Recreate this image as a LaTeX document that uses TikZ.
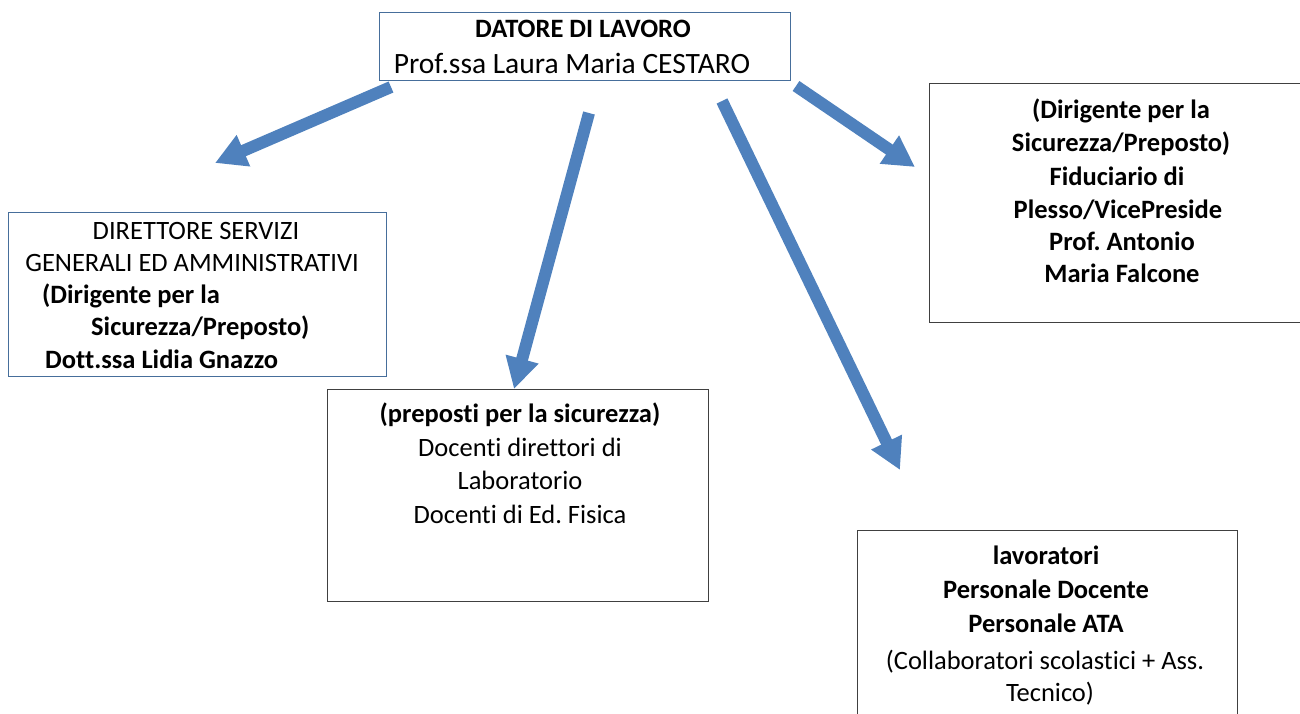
\documentclass[tikz,border=0pt]{standalone}
\usepackage{fontspec}
\setmainfont{Carlito}[Ligatures=NoCommon]
\usetikzlibrary{arrows.meta}
\frenchspacing

\definecolor{arrowblue}{RGB}{79,129,189}
\definecolor{frameblue}{RGB}{70,110,155}
\definecolor{framegray}{RGB}{64,64,64}

\tikzset{
  box/.style={draw=framegray, line width=1pt},
  bluebox/.style={draw=frameblue, line width=1pt},
  txt/.style={anchor=base, inner sep=0pt, font=\fontsize{26.5pt}{33pt}\selectfont},
  txtw/.style={txt, anchor=base west},
  bigarrow/.style={draw=arrowblue, line width=12pt,
    -{Triangle[length=31pt,width=32pt]}, fill=arrowblue},
}

\begin{document}
\begin{tikzpicture}[x=1pt, y=-1pt]
  \useasboundingbox (0,0) rectangle (1300,713);
  \clip (0,0) rectangle (1300,713);

  % frames
  \draw[bluebox] (379,12) rectangle (790,80);
  \draw[bluebox] (8,212) rectangle (386,376);
  \draw[box] (327,389) rectangle (708,601);
  \draw[box] (929,83) rectangle (1310,322);
  \draw[box] (857,530) rectangle (1237,730);

  % employer
  \node[txt] (dl1) at (583,37) {\bfseries DATORE DI LAVORO};
  \node[txt, font=\fontsize{29.5pt}{34pt}\selectfont] (dl2) at (572,73) {Prof.ssa Laura Maria CESTARO};

  % DSGA
  \node[txt] (ds1) at (196,239) {DIRETTORE SERVIZI};
  \node[txt] (ds2) at (192,271) {GENERALI ED AMMINISTRATIVI};
  \node[txtw] (ds3) at (42,303) {\bfseries (Dirigente per la};
  \node[txtw] (ds4) at (91,335) {\bfseries Sicurezza/Preposto)};
  \node[txtw] (ds5) at (45,368) {\bfseries Dott.ssa Lidia Gnazzo};

  % lab supervisors
  \node[txt] (pr1) at (520,422) {\bfseries (preposti per la sicurezza)};
  \node[txt] (pr2) at (520,456) {Docenti direttori di};
  \node[txt] (pr3) at (520,489) {Laboratorio};
  \node[txt] (pr4) at (520,523) {Docenti di Ed. Fisica};

  % site trustee
  \node[txt] (fd1) at (1121,118) {\bfseries (Dirigente per la};
  \node[txt] (fd2) at (1121,151) {\bfseries Sicurezza/Preposto)};
  \node[txt] (fd3) at (1117,185) {\bfseries Fiduciario di};
  \node[txt] (fd4) at (1118,218) {\bfseries Plesso/VicePreside};
  \node[txt] (fd5) at (1122,250) {\bfseries Prof. Antonio};
  \node[txt] (fd6) at (1122,282) {\bfseries Maria Falcone};

  % workers
  \node[txt] (lv1) at (1046,564) {\bfseries lavoratori};
  \node[txt] (lv2) at (1046,598) {\bfseries Personale Docente};
  \node[txt] (lv3) at (1046,632) {\bfseries Personale ATA};
  \node[txt] (lv4) at (1045,669) {(Collaboratori scolastici + Ass.};
  \node[txt] (lv5) at (1050,701) {Tecnico)};

  % arrow ends
  \coordinate (a1s) at (391,87);
  \coordinate (a1e) at (215,163);
  \coordinate (a2s) at (589,113);
  \coordinate (a2e) at (514,389);
  \coordinate (a3s) at (722,101);
  \coordinate (a3e) at (900,470);
  \coordinate (a4s) at (796,86);
  \coordinate (a4e) at (915,167);

  \draw[bigarrow] (a1s) -- (a1e);
  \draw[bigarrow] (a2s) -- (a2e);
  \draw[bigarrow] (a3s) -- (a3e);
  \draw[bigarrow] (a4s) -- (a4e);
\end{tikzpicture}
\end{document}
